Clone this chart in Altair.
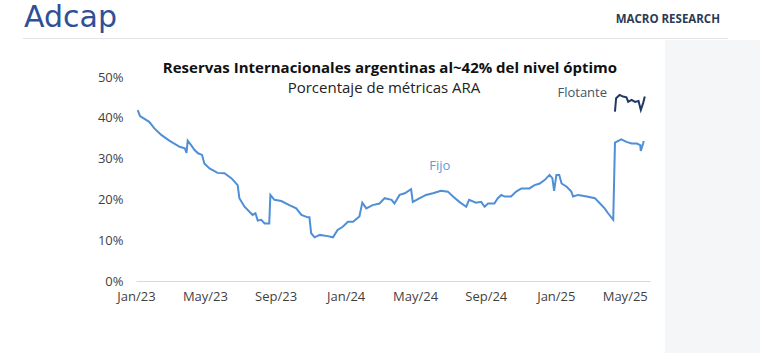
import altair as alt
import pandas as pd

# ---- data ----
fijo_dates = [
    "2023-01-04", "2023-01-08", "2023-01-24", "2023-02-02", "2023-02-14", "2023-02-28",
    "2023-03-18", "2023-03-27", "2023-03-30", "2023-04-01", "2023-04-07", "2023-04-13",
    "2023-04-19", "2023-04-26", "2023-04-30", "2023-05-09", "2023-05-23", "2023-06-04",
    "2023-06-16", "2023-06-27", "2023-06-30", "2023-07-09", "2023-07-23", "2023-07-28",
    "2023-08-01", "2023-08-07", "2023-08-13", "2023-08-21", "2023-08-23", "2023-08-30",
    "2023-09-11", "2023-09-25", "2023-10-07", "2023-10-16", "2023-10-27", "2023-10-30",
    "2023-11-02", "2023-11-08", "2023-11-17", "2023-12-01", "2023-12-10", "2023-12-18",
    "2023-12-27", "2024-01-05", "2024-01-14", "2024-01-25", "2024-01-30", "2024-02-06",
    "2024-02-17", "2024-02-29", "2024-03-09", "2024-03-21", "2024-03-26", "2024-04-04",
    "2024-04-13", "2024-04-24", "2024-04-27", "2024-05-09", "2024-05-20", "2024-06-01",
    "2024-06-15", "2024-06-27", "2024-07-06", "2024-07-17", "2024-07-29", "2024-08-03",
    "2024-08-15", "2024-08-24", "2024-08-30", "2024-09-05", "2024-09-16", "2024-09-22",
    "2024-09-28", "2024-10-04", "2024-10-15", "2024-10-24", "2024-11-02", "2024-11-16",
    "2024-11-25", "2024-12-04", "2024-12-13", "2024-12-21", "2024-12-26", "2024-12-29",
    "2025-01-02", "2025-01-07", "2025-01-11", "2025-01-20", "2025-01-28", "2025-01-31",
    "2025-02-09", "2025-02-24", "2025-03-10", "2025-03-19", "2025-03-27", "2025-04-02",
    "2025-04-11", "2025-04-14", "2025-04-25", "2025-05-04", "2025-05-13", "2025-05-22",
    "2025-05-28", "2025-05-29", "2025-06-02", "2025-06-03",
]
fijo_values = [
    41.9, 40.4, 39.0, 37.4, 35.8, 34.4,
    32.9, 32.5, 31.4, 34.4, 33.3, 32.1,
    31.3, 30.9, 28.8, 27.6, 26.5, 26.4,
    25.2, 23.5, 20.3, 18.2, 16.2, 16.6,
    14.8, 15.0, 14.1, 14.1, 21.1, 19.9,
    19.6, 18.6, 17.8, 16.2, 15.6, 15.6,
    11.7, 10.7, 11.3, 11.0, 10.7, 12.5,
    13.3, 14.5, 14.5, 15.8, 19.2, 17.8,
    18.6, 19.0, 20.3, 19.9, 19.0, 21.1,
    21.5, 22.5, 19.4, 20.3, 21.1, 21.5,
    22.1, 21.9, 20.7, 19.4, 18.2, 19.9,
    19.2, 19.4, 18.2, 19.0, 19.0, 20.3,
    21.1, 20.7, 20.7, 21.9, 22.7, 22.7,
    23.5, 23.9, 24.8, 26.0, 25.2, 22.1,
    26.0, 26.0, 23.9, 23.1, 21.9, 20.7,
    21.1, 20.7, 20.3, 19.0, 17.8, 16.6,
    15.0, 33.9, 34.7, 34.1, 33.7, 33.7,
    33.3, 31.9, 33.7, 34.3,
]
flot_dates = [
    "2025-04-14", "2025-04-16", "2025-04-22", "2025-04-28", "2025-05-04", "2025-05-07",
    "2025-05-13", "2025-05-19", "2025-05-25", "2025-05-29", "2025-06-02", "2025-06-05",
]
flot_values = [41.5, 44.8, 45.6, 45.2, 45.0, 43.9, 44.4, 43.9, 44.1, 41.9, 43.6, 45.2]

series_names = ["Fijo", "Flotante"]
series_colors = ["#4f8fd6", "#1f3864"]
label_colors = ["#5f9bd8", "#44546a"]
label_dates = ["2024-06-13", "2025-02-16"]
label_values = [28.2, 46.1]

y_ticks = [0, 10, 20, 30, 40, 50]

title_text = "Reservas Internacionales argentinas al~42% del nivel óptimo"
subtitle_text = "Porcentaje de métricas ARA"
brand_text = "Adcap"
header_right = "MACRO RESEARCH"

FONT = "Open Sans"

rows = []
for d, v in zip(fijo_dates, fijo_values):
    rows.append({"fecha": d + "T00:00:00", "valor": v, "serie": "Fijo"})
for d, v in zip(flot_dates, flot_values):
    rows.append({"fecha": d + "T00:00:00", "valor": v, "serie": "Flotante"})
df = pd.DataFrame(rows)

lab = pd.DataFrame({
    "fecha": [d + "T00:00:00" for d in label_dates],
    "valor": label_values,
    "serie": series_names,
})

W, H = 514, 204
PL, PT = 136, 77

x_scale = alt.Scale(domain=[alt.DateTime(year=2023, month=1, date=1),
                            alt.DateTime(year=2025, month=6, date=14)])
y_scale = alt.Scale(domain=[0, 50], nice=False)

x_vals = [alt.DateTime(year=y, month=m, date=1) for (y, m) in
          [(2023, 1), (2023, 5), (2023, 9), (2024, 1), (2024, 5), (2024, 9), (2025, 1), (2025, 5)]]

lines = alt.Chart(df).mark_line(strokeWidth=2, interpolate="linear").encode(
    x=alt.X("fecha:T", scale=x_scale, title=None,
            axis=alt.Axis(values=x_vals, format="%b/%y", grid=False, ticks=False,
                          domain=True, domainColor="#d9d9d9", domainWidth=1,
                          labelPadding=9, labelFontSize=13, labelColor="#3f3f3f",
                          labelFont=FONT, labelFlush=False)),
    y=alt.Y("valor:Q", scale=y_scale, title=None,
            axis=alt.Axis(values=y_ticks, labelExpr="datum.value + '%'", grid=False,
                          ticks=False, domain=False, labelPadding=13, labelFontSize=13,
                          labelColor="#3f3f3f", labelFont=FONT)),
    color=alt.Color("serie:N", scale=alt.Scale(domain=series_names, range=series_colors),
                    legend=None),
    detail="serie:N",
)

labels = alt.Chart(lab).mark_text(fontSize=13, font=FONT, align="center",
                                   baseline="middle").encode(
    x=alt.X("fecha:T", scale=x_scale),
    y=alt.Y("valor:Q", scale=y_scale),
    text="serie:N",
    color=alt.Color("serie:N", scale=alt.Scale(domain=series_names, range=label_colors),
                    legend=None),
)

one = pd.DataFrame({"k": [0]})

gray_panel = alt.Chart(one).mark_rect(color="#f5f6f8").encode(
    x=alt.value(665 - PL), x2=alt.value(760 - PL),
    y=alt.value(40 - PT), y2=alt.value(353 - PT),
)

header_line = alt.Chart(one).mark_rule(color="#e3e3e3", strokeWidth=1).encode(
    x=alt.value(23 - PL), x2=alt.value(728 - PL), y=alt.value(38.5 - PT),
)

brand = alt.Chart(one).mark_text(text=brand_text, font="DejaVu Sans", fontSize=30,
                                  color="#2f5096", align="left",
                                  baseline="alphabetic").encode(
    x=alt.value(24 - PL), y=alt.value(27 - PT),
)

hdr = alt.Chart(one).mark_text(text=header_right, font=FONT, fontSize=11.5,
                                fontWeight="bold", color="#2b3a55", align="right",
                                baseline="middle").encode(
    x=alt.value(720 - PL), y=alt.value(19.5 - PT),
)

title = alt.Chart(one).mark_text(text=title_text, font=FONT, fontSize=15,
                                  fontWeight="bold", color="#111111", align="center",
                                  baseline="middle").encode(
    x=alt.value(390 - PL), y=alt.value(68 - PT),
)

subtitle = alt.Chart(one).mark_text(text=subtitle_text, font=FONT, fontSize=15,
                                     color="#222222", align="center",
                                     baseline="middle").encode(
    x=alt.value(384 - PL), y=alt.value(88 - PT),
)

chart = alt.layer(
    gray_panel, header_line, brand, hdr, title, subtitle, lines, labels
).resolve_scale(color="independent").properties(
    width=W, height=H,
    autosize=alt.AutoSizeParams(type="none"),
    padding={"left": PL, "top": PT, "right": 760 - PL - W, "bottom": 353 - PT - H},
    background="white",
).configure_view(stroke=None)

chart.save("out.html", embed_options={"renderer": "svg", "actions": False})
